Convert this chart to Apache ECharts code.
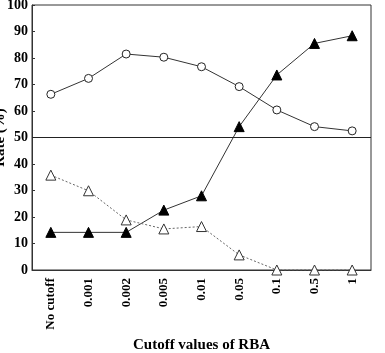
<!DOCTYPE html>
<html>
<head>
<meta charset="utf-8">
<script src="https://cdn.jsdelivr.net/npm/echarts@6/dist/echarts.min.js"></script>
<style>
  html, body { margin: 0; padding: 0; background: #fff; }
  #grid { width: 385px; height: 353px; }
</style>
</head>
<body>
<div id="grid"></div>
<script>
const categories = ['No cutoff', '0.001', '0.002', '0.005', '0.01', '0.05', '0.1', '0.5', '1'];
const openCircle = [66.3, 72.3, 81.5, 80.3, 76.7, 69.2, 60.4, 54.1, 52.5];
const filledTriangle = [14.2, 14.2, 14.2, 22.6, 28.0, 54.1, 73.6, 85.5, 88.4];
const openTriangle = [35.8, 29.9, 18.9, 15.5, 16.4, 5.7, 0, 0, 0];

const myChart = echarts.init(document.getElementById('grid'));

const font = 'Liberation Serif';

const option = {
  animation: false,
  grid: {
    left: 32,
    right: 14,
    top: 5,
    bottom: 83,
    outerBoundsMode: 'none',
    show: true,
    borderColor: '#333',
    borderWidth: 1,
  },
  xAxis: {
    type: 'category',
    data: categories,
    name: 'Cutoff values of RBA',
    nameLocation: 'middle',
    nameGap: 68,
    nameTextStyle: { fontFamily: font, fontWeight: 'bold', fontSize: 15, color: '#000' },
    axisLine: { lineStyle: { color: '#333' } },
    axisTick: { inside: true, length: 5, lineStyle: { color: '#333' } },
    axisLabel: {
      rotate: 90,
      fontFamily: font,
      fontWeight: 'bold',
      fontSize: 13,
      color: '#000',
      margin: 8,
    },
  },
  yAxis: {
    type: 'value',
    min: 0,
    max: 100,
    interval: 10,
    name: 'Rate (%)',
    nameLocation: 'middle',
    nameGap: 24,
    nameMoveOverlap: false,
    nameTextStyle: { fontFamily: font, fontWeight: 'bold', fontSize: 15, color: '#000' },
    axisLine: { show: true, lineStyle: { color: '#333' } },
    axisTick: { show: true, inside: true, length: 3, lineStyle: { color: '#333' } },
    splitLine: { show: false },
    axisLabel: {
      fontFamily: font,
      fontWeight: 'bold',
      fontSize: 14,
      color: '#000',
      margin: 4,
      padding: [3, 0, 0, 0],
    },
  },
  series: [
    {
      name: 'open circle',
      type: 'line',
      data: openCircle,
      symbol: 'circle',
      symbolSize: 8,
      lineStyle: { color: '#333', width: 1 },
      itemStyle: { color: '#fff', borderColor: '#222', borderWidth: 1 },
      markLine: {
        silent: true,
        symbol: 'none',
        label: { show: false },
        lineStyle: { color: '#222', type: 'solid', width: 1 },
        data: [{ yAxis: 50 }],
      },
    },
    {
      name: 'filled triangle',
      type: 'line',
      data: filledTriangle,
      symbol: 'triangle',
      symbolSize: 10,
      lineStyle: { color: '#333', width: 1 },
      itemStyle: { color: '#000', borderColor: '#000', borderWidth: 1 },
    },
    {
      name: 'open triangle',
      type: 'line',
      data: openTriangle,
      symbol: 'triangle',
      symbolSize: 10,
      lineStyle: { color: '#666', width: 1, type: [2, 2] },
      itemStyle: { color: '#fff', borderColor: '#333', borderWidth: 1 },
    },
  ],
};

myChart.setOption(option);
</script>
</body>
</html>
